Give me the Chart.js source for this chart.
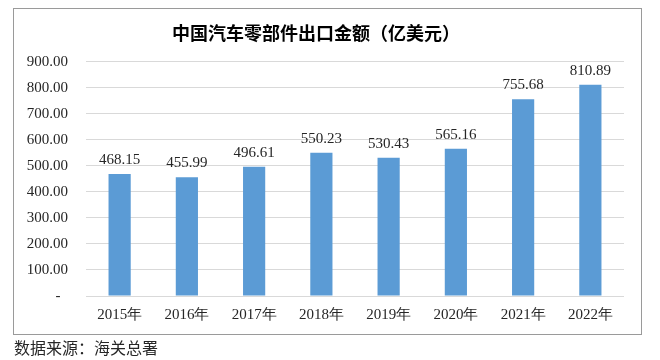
<!DOCTYPE html>
<html>
<head>
<meta charset="utf-8">
<script src="https://cdn.jsdelivr.net/npm/chart.js@4/dist/chart.umd.min.js"></script>
<style>
  html, body { margin: 0; padding: 0; background: #fff; }
  #wrap { position: relative; width: 660px; height: 360px; }
  #c { position: absolute; left: 0; top: 0; }
  #src { position: absolute; left: 14px; top: 337px; font-family: "Noto Sans CJK SC", sans-serif; font-size: 16px; line-height: 20px; color: #262626; white-space: nowrap; }
</style>
</head>
<body>
<div id="wrap">
  <canvas id="c" width="660" height="360"></canvas>
  <div id="src">数据来源：海关总署</div>
</div>
<script>
const titleText = '中国汽车零部件出口金额（亿美元）';
const categories = ['2015年', '2016年', '2017年', '2018年', '2019年', '2020年', '2021年', '2022年'];
const exportValues = [468.15, 455.99, 496.61, 550.23, 530.43, 565.16, 755.68, 810.89];
const yTicks = [0, 100, 200, 300, 400, 500, 600, 700, 800, 900];

const frame = {
  id: 'frame',
  beforeDraw(chart) {
    const ctx = chart.ctx;
    ctx.save();
    ctx.fillStyle = '#ffffff';
    ctx.fillRect(0, 0, chart.width, chart.height);
    ctx.strokeStyle = '#9a9a9a';
    ctx.lineWidth = 1;
    ctx.strokeRect(13.5, 8.5, 628, 326);
    ctx.restore();
  }
};

const valueLabels = {
  id: 'valueLabels',
  afterDatasetsDraw(chart) {
    const ctx = chart.ctx;
    const meta = chart.getDatasetMeta(0);
    ctx.save();
    ctx.font = '15px "Liberation Serif", "Times New Roman", serif';
    ctx.fillStyle = '#262626';
    ctx.textAlign = 'center';
    ctx.textBaseline = 'middle';
    meta.data.forEach((bar, i) => {
      ctx.fillText(exportValues[i].toFixed(2), bar.x, bar.y - 14);
    });
    ctx.restore();
  }
};

new Chart(document.getElementById('c'), {
  type: 'bar',
  data: {
    labels: categories,
    datasets: [{
      data: exportValues,
      backgroundColor: '#5B9BD5',
      borderWidth: 0,
      categoryPercentage: 1,
      barPercentage: 0.33
    }]
  },
  options: {
    responsive: false,
    animation: false,
    devicePixelRatio: 1,
    layout: { padding: { left: 8, right: 36, top: 0, bottom: 0 } },
    plugins: {
      legend: { display: false },
      tooltip: { enabled: false },
      title: {
        display: true,
        text: titleText,
        color: '#000000',
        font: { family: '"Noto Sans CJK SC", sans-serif', size: 18, weight: 'bold', lineHeight: 1.2 },
        padding: { top: 22, bottom: 18 }
      }
    },
    scales: {
      x: {
        grid: { display: false, drawTicks: false },
        border: { display: false },
        ticks: {
          color: '#262626',
          padding: 10,
          maxRotation: 0,
          font: { family: '"Liberation Serif", "Times New Roman", serif', size: 15 }
        },
        afterFit(s) { s.height = 64; }
      },
      y: {
        min: 0,
        max: 900,
        afterBuildTicks(s) { s.ticks = yTicks.map(v => ({ value: v })); },
        grid: { color: '#d9d9d9', lineWidth: 1, drawTicks: false },
        border: { display: false },
        ticks: {
          color: '#262626',
          padding: 18,
          font: { family: '"Liberation Serif", "Times New Roman", serif', size: 15 },
          callback: v => v === 0 ? '-  ' : Number(v).toFixed(2)
        },
        afterFit(s) { s.width = 78; }
      }
    }
  },
  plugins: [frame, valueLabels]
});
</script>
</body>
</html>
